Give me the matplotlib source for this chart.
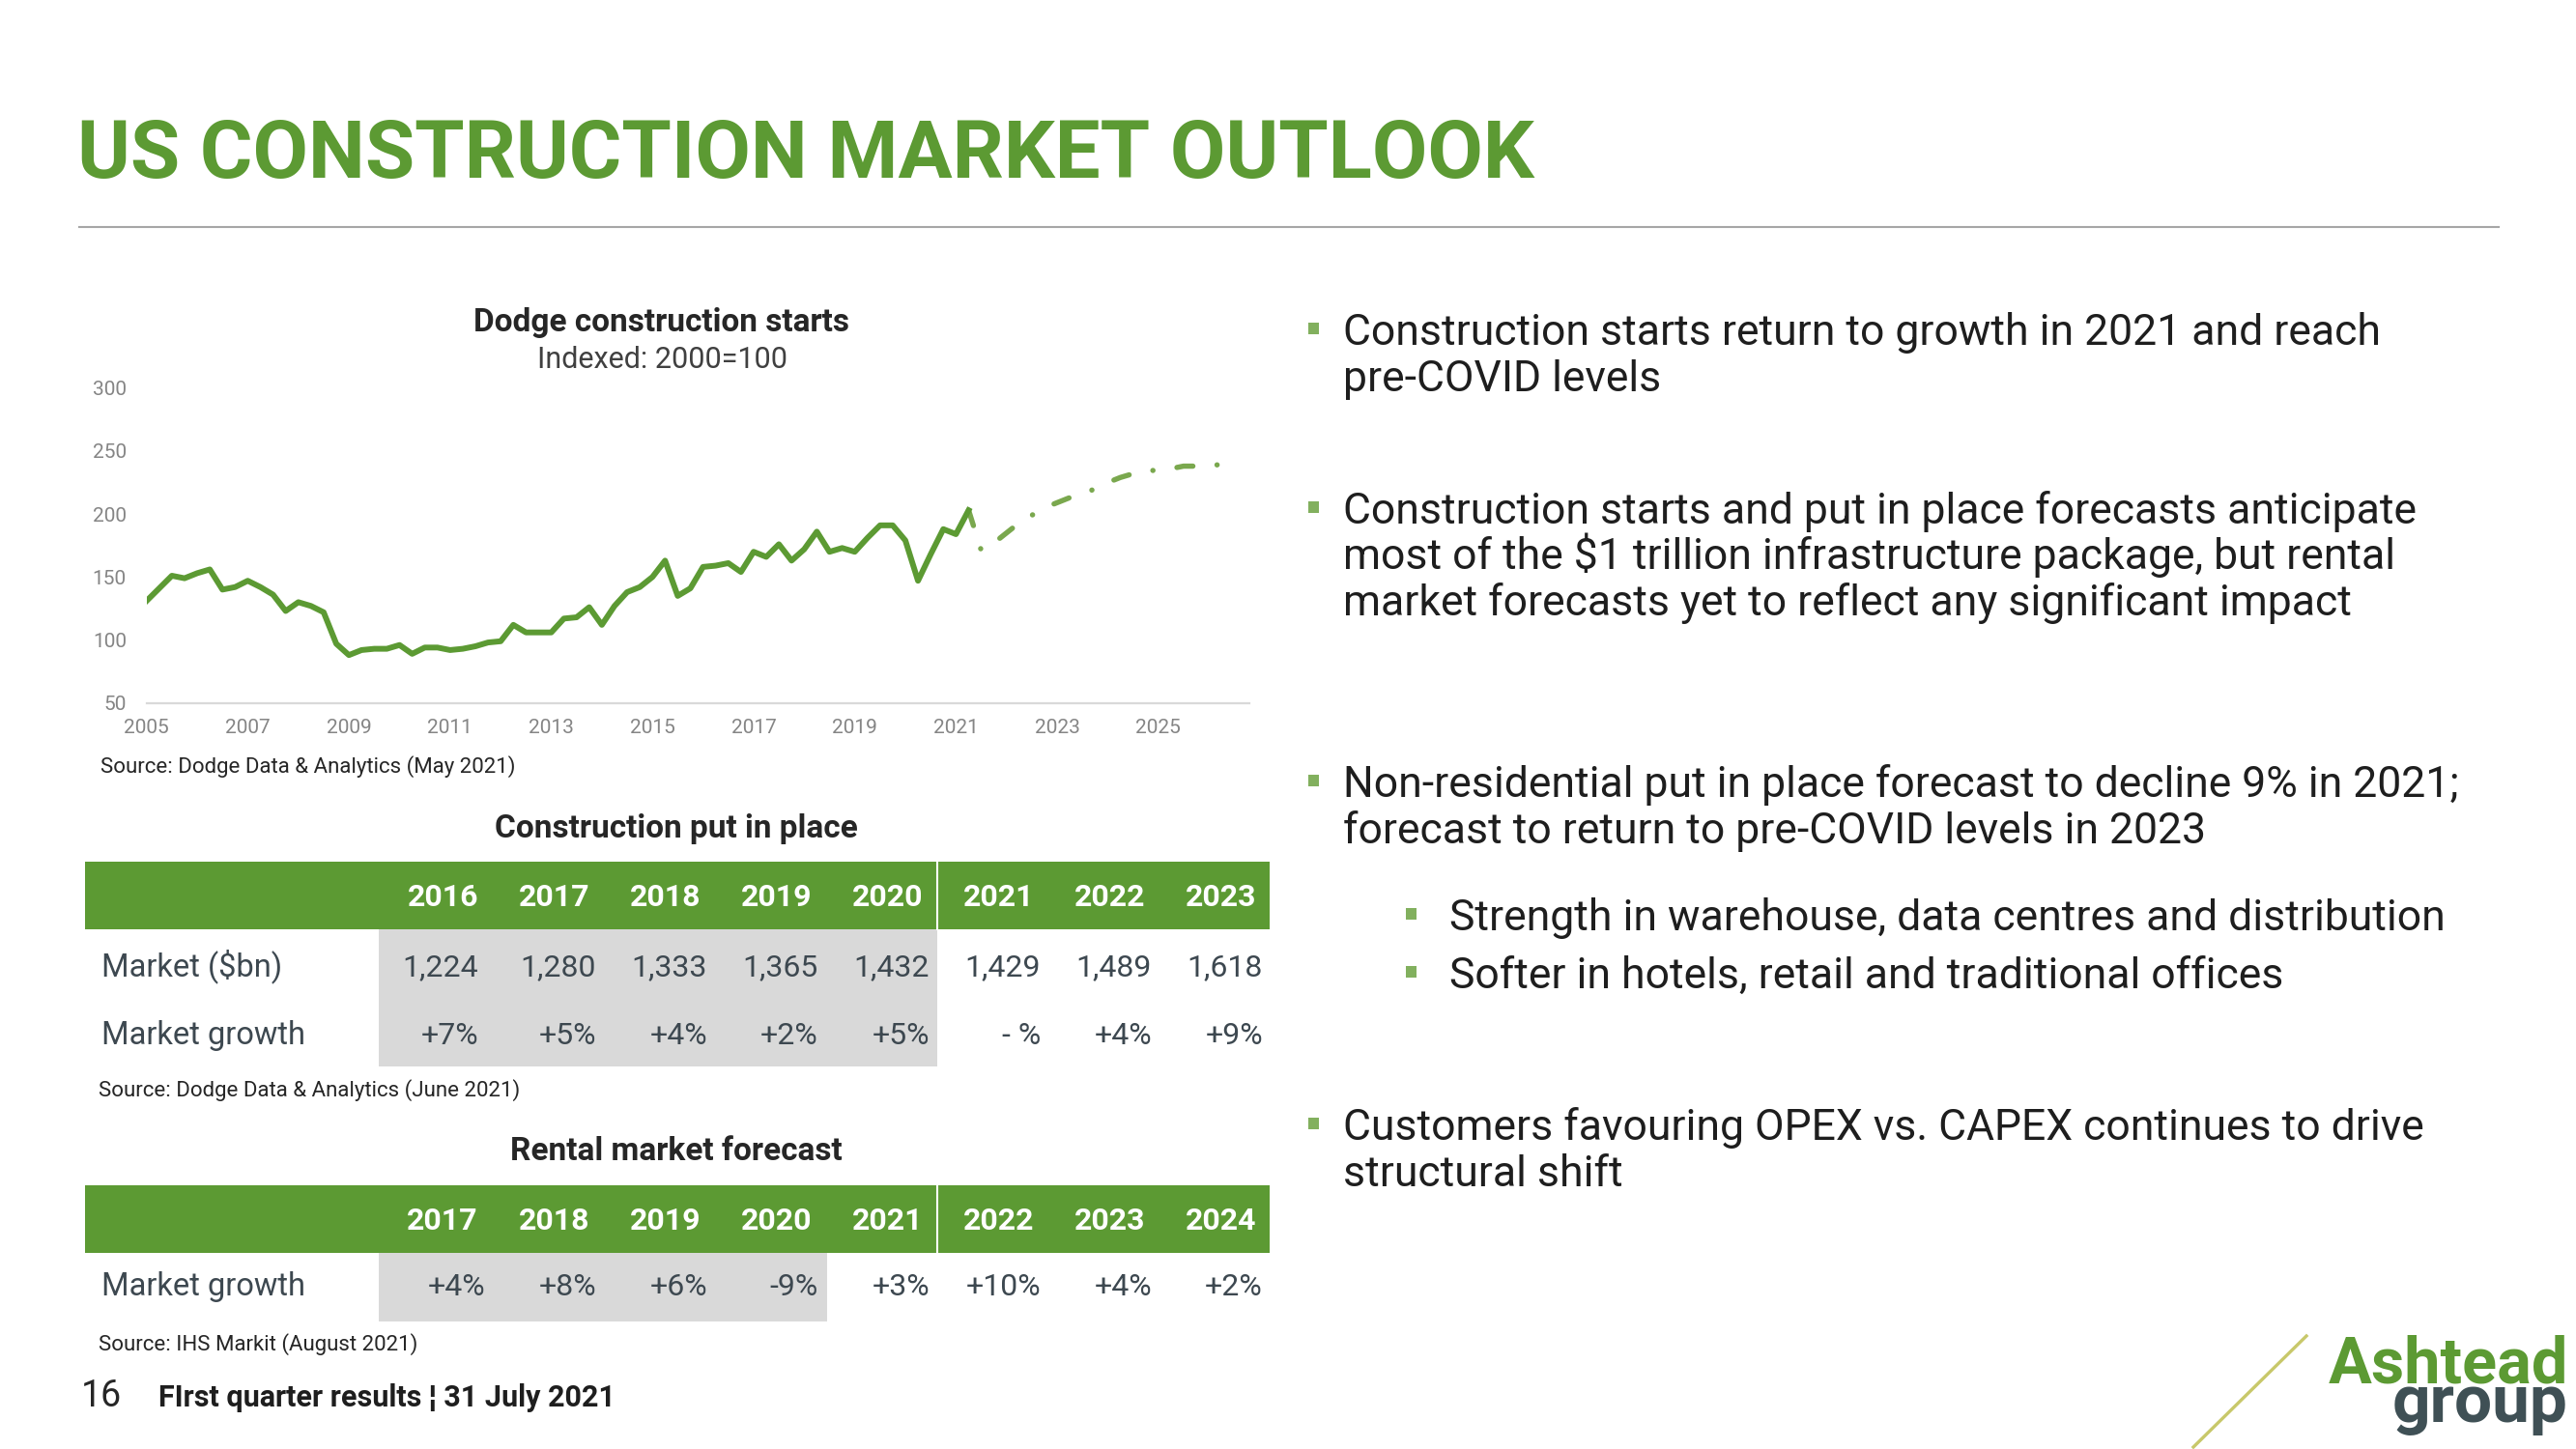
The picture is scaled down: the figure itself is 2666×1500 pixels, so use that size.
import numpy as np
import matplotlib
matplotlib.use('Agg')
import matplotlib.pyplot as plt
from matplotlib.patches import Rectangle
from matplotlib.lines import Line2D

plt.rcParams['font.family'] = ['Roboto', 'DejaVu Sans']
plt.rcParams['lines.scale_dashes'] = False

# ---- data ----
start_year = 2005
# Dodge construction starts, quarterly, indexed 2000=100 (2005 Q1 .. 2021 Q2)
starts_actual = [131, 141, 151, 149, 153, 156, 140, 142, 147, 142, 136, 123,
                 130, 127, 122, 97, 88, 92, 93, 93, 96, 89, 94, 94,
                 92, 93, 95, 98, 99, 112, 106, 106, 106, 117, 118, 126,
                 112, 127, 138, 142, 150, 163, 135, 141, 158, 159, 161, 154,
                 170, 166, 176, 163, 172, 186, 170, 173, 170, 181, 191, 191,
                 179, 147, 168, 188, 184, 203]
# forecast, quarterly from 2021 Q2
starts_forecast = [203, 171, 177, 185, 193, 199, 205, 209, 213, 216, 220,
                   225, 229, 232, 234, 235, 236, 238, 238, 239, 239, 240]
x_ticks = list(range(2005, 2026, 2))
y_ticks = [50, 100, 150, 200, 250, 300]

cpip_years = ['2016', '2017', '2018', '2019', '2020', '2021', '2022', '2023']
cpip_market = ['1,224', '1,280', '1,333', '1,365', '1,432', '1,429', '1,489', '1,618']
cpip_growth = ['+7%', '+5%', '+4%', '+2%', '+5%', '- %', '+4%', '+9%']

rental_years = ['2017', '2018', '2019', '2020', '2021', '2022', '2023', '2024']
rental_growth = ['+4%', '+8%', '+6%', '-9%', '+3%', '+10%', '+4%', '+2%']

main_bullets = [
    ["Construction starts return to growth in 2021 and reach", "pre-COVID levels"],
    ["Construction starts and put in place forecasts anticipate",
     "most of the $1 trillion infrastructure package, but rental",
     "market forecasts yet to reflect any significant impact"],
    ["Non-residential put in place forecast to decline 9% in 2021;",
     "forecast to return to pre-COVID levels in 2023"],
    ["Customers favouring OPEX vs. CAPEX continues to drive", "structural shift"],
]
sub_bullets = ["Strength in warehouse, data centres and distribution",
               "Softer in hotels, retail and traditional offices"]

GREEN = '#5C9A33'
LIGHT_GREEN = '#7AA84E'
BULLET = '#82B05E'
GREY_BOX = '#D9D9D9'
DARK = '#1E1E1E'
TABLE_TXT = '#3D4850'

W, H = 2666, 1500
fig = plt.figure(figsize=(W / 100, H / 100), dpi=100)


def fx(x):
    return x / W


def fy(y):
    return 1 - y / H


def rect(x0, y0, x1, y1, color):
    fig.add_artist(Rectangle((fx(x0), fy(y1)), fx(x1) - fx(x0), fy(y0) - fy(y1),
                             transform=fig.transFigure, facecolor=color,
                             edgecolor='none', zorder=0))


def txt(x, y, s, **kw):
    fig.text(fx(x), fy(y), s, va='baseline', **kw)


# ---- header ----
txt(80, 184, 'US CONSTRUCTION MARKET OUTLOOK', fontsize=60, fontweight='bold', color=GREEN)
fig.add_artist(Line2D([fx(82), fx(2586)], [fy(235), fy(235)], color='#A6A6A6', lw=1.5))

# ---- line chart ----
ax = fig.add_axes([fx(151.7), fy(727.7), fx(1293) - fx(151.7), fy(401.7) - fy(727.7)])
x_act = start_year + np.arange(len(starts_actual)) / 4
x_fc = start_year + (np.arange(len(starts_forecast)) + len(starts_actual) - 1) / 4
ax.plot(x_fc, starts_forecast, color=LIGHT_GREEN, lw=3.9,
        linestyle=(0, (12, 18, 0.1, 18)), dash_capstyle='round')
ax.plot(x_act, starts_actual, color=GREEN, lw=4.3)
ax.set_xlim(2005, 2026.8)
ax.set_ylim(50, 300)
ax.set_xticks(x_ticks)
ax.set_yticks(y_ticks)
for s in ['top', 'right', 'left']:
    ax.spines[s].set_visible(False)
ax.spines['bottom'].set_color('#D9D9D9')
ax.spines['bottom'].set_linewidth(1.6)
ax.tick_params(length=0, labelsize=15, labelcolor='#858585')
ax.tick_params(axis='y', pad=15)
ax.tick_params(axis='x', pad=12)
ax.patch.set_visible(False)

txt(685, 343, 'Dodge construction starts', fontsize=24, fontweight='bold', color='#262626', ha='center')
txt(685, 381, 'Indexed: 2000=100', fontsize=22, color='#404040', ha='center')
txt(104, 800, 'Source: Dodge Data & Analytics (May 2021)', fontsize=16, color='#262626')

# ---- tables ----
head_x = [495 + 115 * k for k in range(8)]
val_x = [502 + 115 * k for k in range(8)]

# construction put in place
txt(700, 867, 'Construction put in place', fontsize=24, fontweight='bold', color='#262626', ha='center')
rect(88, 892, 1314, 962, GREEN)
rect(392, 962, 970, 1104, GREY_BOX)
fig.add_artist(Line2D([fx(970), fx(970)], [fy(892), fy(962)], color='white', lw=1.5))
for k, yr in enumerate(cpip_years):
    txt(head_x[k], 938, yr, fontsize=23, fontweight='bold', color='white', ha='right')
    xv = val_x[k] if k else head_x[k]
    txt(xv, 1010, cpip_market[k], fontsize=23, color=TABLE_TXT, ha='right')
    txt(xv, 1081, cpip_growth[k], fontsize=23, color=TABLE_TXT, ha='right')
txt(105, 1010, 'Market ($bn)', fontsize=23.5, color=TABLE_TXT)
txt(105, 1081, 'Market growth', fontsize=23.5, color=TABLE_TXT)
txt(102, 1135, 'Source: Dodge Data & Analytics (June 2021)', fontsize=16, color='#262626')

# rental market forecast
txt(700, 1201, 'Rental market forecast', fontsize=24, fontweight='bold', color='#262626', ha='center')
rect(88, 1227, 1314, 1297, GREEN)
rect(392, 1297, 856, 1368, GREY_BOX)
fig.add_artist(Line2D([fx(970), fx(970)], [fy(1227), fy(1297)], color='white', lw=1.5))
for k, yr in enumerate(rental_years):
    txt(head_x[k], 1273, yr, fontsize=23, fontweight='bold', color='white', ha='right')
    txt(val_x[k], 1341, rental_growth[k], fontsize=23, color=TABLE_TXT, ha='right')
txt(105, 1341, 'Market growth', fontsize=23.5, color=TABLE_TXT)
txt(102, 1398, 'Source: IHS Markit (August 2021)', fontsize=16, color='#262626')

# ---- bullets ----
line_gap = 47.5
main_base = [357, 542, 825, 1180]
for lines, y0 in zip(main_bullets, main_base):
    rect(1354, y0 - 23, 1365, y0 - 11, BULLET)
    for j, line in enumerate(lines):
        txt(1390, y0 + j * line_gap, line, fontsize=32, color=DARK)
sub_base = [963, 1023]
for line, y0 in zip(sub_bullets, sub_base):
    rect(1455, y0 - 23, 1466, y0 - 11, BULLET)
    txt(1500, y0, line, fontsize=32, color=DARK)

# ---- footer ----
txt(84, 1456, '16', fontsize=27, color='#262626')
txt(164, 1456, 'FIrst quarter results \u00a6 31 July 2021', fontsize=22, fontweight='bold', color=DARK)

# logo
fig.add_artist(Line2D([fx(2270), fx(2387)], [fy(1498), fy(1383)], color='#C8C86A', lw=2.4))
txt(2658, 1432, 'Ashtead', fontsize=48, fontweight='bold', color=GREEN, ha='right')
txt(2658, 1472, 'group', fontsize=50, fontweight='bold', color='#3F5055', ha='right')

fig.savefig('out.png', dpi=100)
